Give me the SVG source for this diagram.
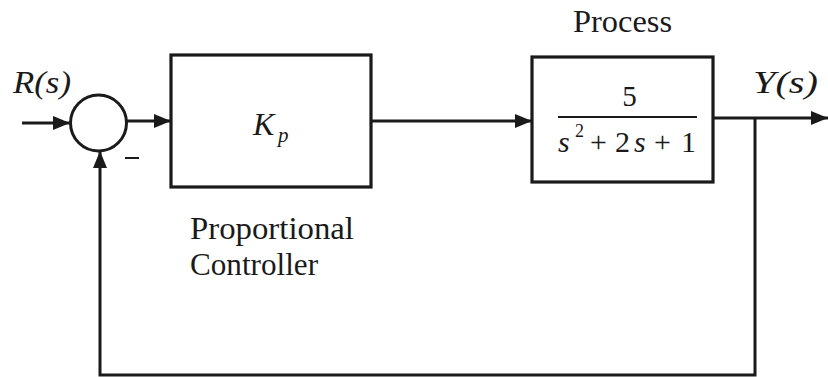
<svg xmlns="http://www.w3.org/2000/svg" width="828" height="377" viewBox="0 0 828 377">
<style>
.ln{fill:none;stroke:#1a1a1a;stroke-width:3}
.bx{fill:#fff;stroke:#1a1a1a;stroke-width:3.2}
text{font-family:'Times New Roman',Times,'Liberation Serif',Tinos,'Noto Serif','DejaVu Serif',FreeSerif,serif;fill:#1a1a1a}
.i{font-style:italic}
</style>
<defs>
<marker id="ah" viewBox="0 0 17 14" refX="17" refY="7" markerWidth="17" markerHeight="14" markerUnits="userSpaceOnUse" orient="auto">
<path d="M0,0 L17,7 L0,14 Z" fill="#1a1a1a"/>
</marker>
</defs>
<rect width="828" height="377" fill="#fff"/>
<g id="connectors">
<path class="ln" d="M22,123 H70" marker-end="url(#ah)"/>
<path class="ln" d="M127,121 H171" marker-end="url(#ah)"/>
<path class="ln" d="M371,121 H532" marker-end="url(#ah)"/>
<path class="ln" d="M713,118 H828" marker-end="url(#ah)"/>
<path class="ln" d="M755,118 V375 H100 V151" marker-end="url(#ah)"/>
</g>
<g id="sum">
<circle class="ln" cx="98.5" cy="123" r="28"/>
<line x1="125" y1="158" x2="139" y2="158" stroke="#1a1a1a" stroke-width="2"/>
</g>
<g id="input-label">
<text class="i" x="13" y="93" font-size="32" textLength="58" lengthAdjust="spacingAndGlyphs">R(s)</text>
</g>
<g id="controller">
<rect class="bx" x="171" y="55" width="200" height="132"/>
<text class="i" x="253" y="135" font-size="32">K</text>
<text class="i" x="278" y="142" font-size="21">p</text>
<text x="190" y="239" font-size="31" textLength="164" lengthAdjust="spacingAndGlyphs">Proportional</text>
<text x="190" y="275" font-size="31" textLength="128" lengthAdjust="spacingAndGlyphs">Controller</text>
</g>
<g id="process">
<rect class="bx" x="532" y="57" width="181" height="125"/>
<text x="573" y="32" font-size="31" textLength="99" lengthAdjust="spacingAndGlyphs">Process</text>
<text x="629.5" y="106" font-size="29" text-anchor="middle">5</text>
<line x1="558" y1="117" x2="697" y2="117" stroke="#1a1a1a" stroke-width="2"/>
<text font-size="30"><tspan class="i" x="558" y="152">s</tspan><tspan x="575" y="137" font-size="18">2</tspan><tspan x="590" y="152">+</tspan><tspan x="615" y="152">2</tspan><tspan class="i" x="634" y="152">s</tspan><tspan x="654" y="152">+</tspan><tspan x="681" y="152">1</tspan></text>
</g>
<g id="output-label">
<text class="i" x="753" y="93" font-size="32" textLength="65" lengthAdjust="spacingAndGlyphs">Y(s)</text>
</g>
</svg>
